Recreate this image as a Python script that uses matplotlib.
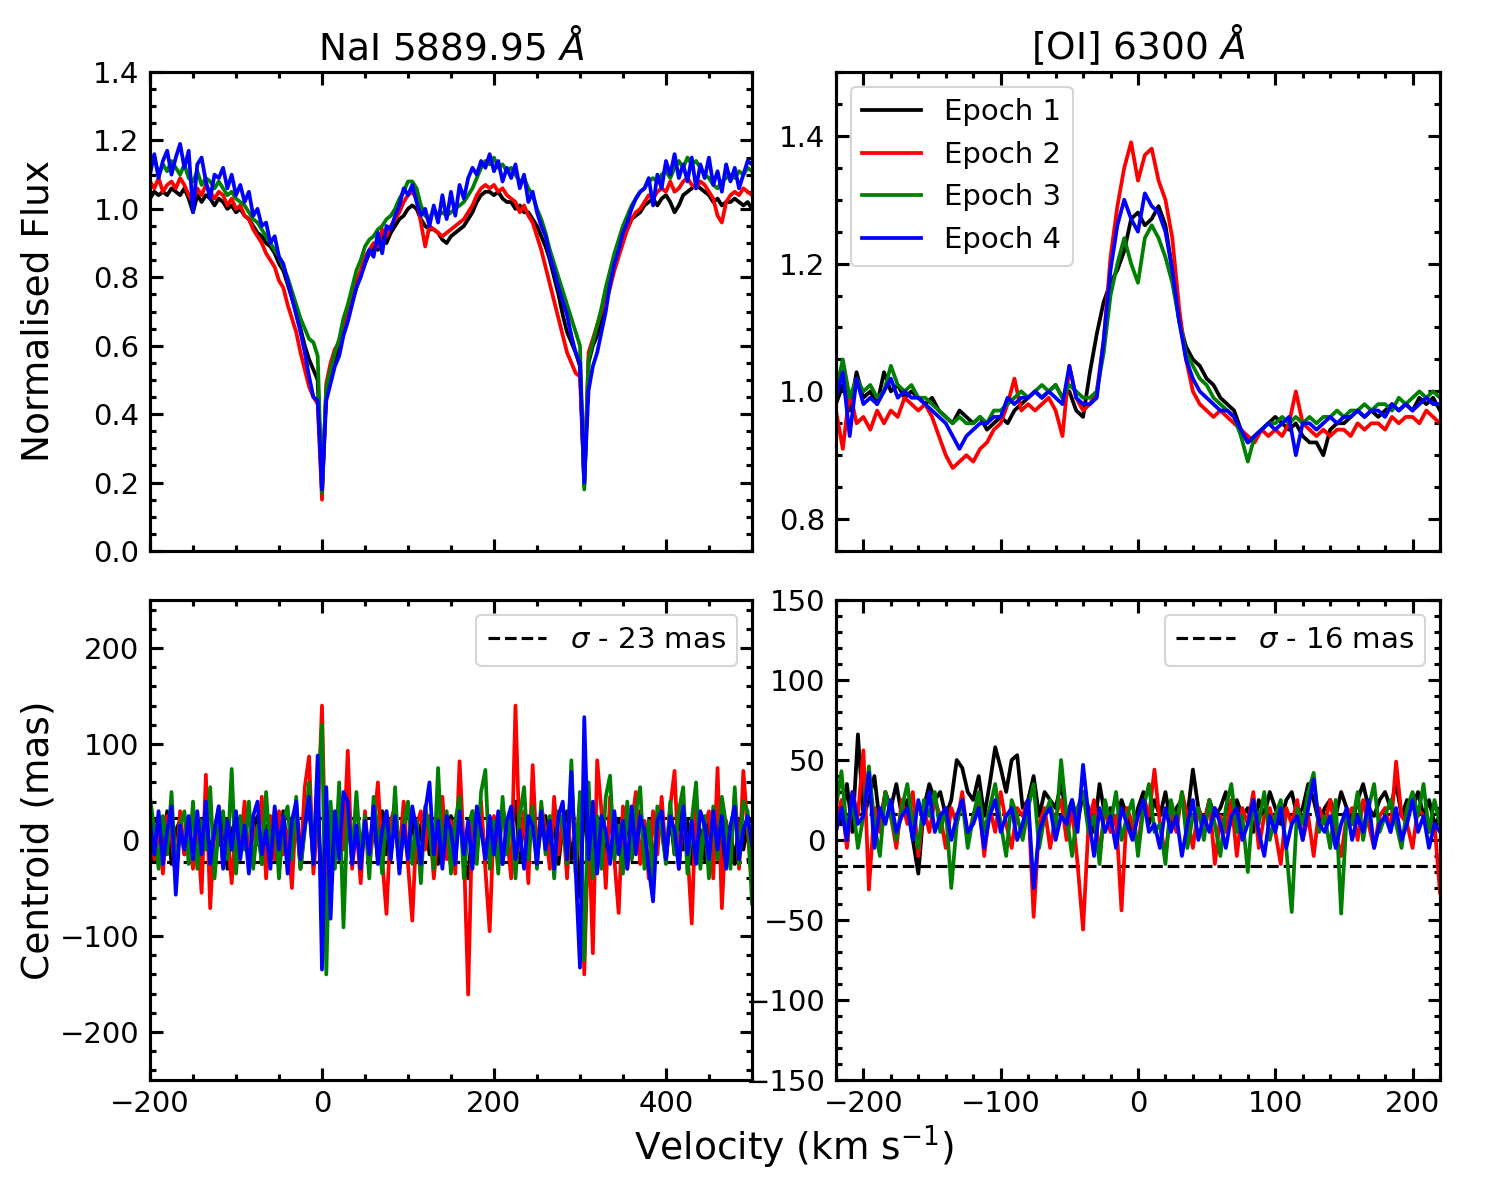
import numpy as np
import matplotlib
matplotlib.use("Agg")
import matplotlib.pyplot as plt
from matplotlib.ticker import MultipleLocator

plt.rcParams['font.family'] = ['DejaVu Sans']
plt.rcParams['mathtext.fontset'] = 'dejavusans'

# ---------------- data ----------------
epochs = ["Epoch 1", "Epoch 2", "Epoch 3", "Epoch 4"]
colors = ["k", "r", "g", "b"]

# NaI panel: velocity grid -200..500 step 5
vel_na = np.arange(-200, 501, 5)
na_e1 = [1.03, 1.05, 1.04, 1.05, 1.04, 1.06, 1.05, 1.04, 1.06, 1.03,
         0.99, 1.04, 1.02, 1.04, 1.03, 1.01, 1.03, 1.02, 1.00, 1.01,
         0.99, 1.00, 0.98, 0.97, 0.95, 0.93, 0.92, 0.90, 0.89, 0.87,
         0.84, 0.82, 0.78, 0.74, 0.70, 0.65, 0.60, 0.56, 0.53, 0.50,
         0.17, 0.47, 0.51, 0.56, 0.60, 0.64, 0.69, 0.73, 0.77, 0.81,
         0.84, 0.87, 0.89, 0.88, 0.92, 0.90, 0.93, 0.95, 0.97, 0.98,
         1.00, 1.01, 1.00, 0.97, 0.95, 0.94, 0.94, 0.93, 0.91, 0.90,
         0.92, 0.93, 0.94, 0.95, 0.97, 0.99, 1.02, 1.04, 1.05, 1.05,
         1.04, 1.05, 1.03, 1.02, 1.02, 1.00, 1.01, 0.99, 0.99, 0.97,
         0.95, 0.92, 0.89, 0.85, 0.80, 0.75, 0.69, 0.64, 0.61, 0.58,
         0.54, 0.19, 0.55, 0.60, 0.63, 0.68, 0.73, 0.78, 0.83, 0.87,
         0.91, 0.94, 0.97, 0.98, 0.99, 1.01, 1.02, 1.03, 1.01, 1.03,
         1.04, 1.02, 0.99, 1.01, 1.04, 1.05, 1.06, 1.07, 1.06, 1.05,
         1.04, 1.02, 1.03, 1.01, 1.02, 1.02, 1.03, 1.02, 1.01, 1.02,
         1.00]
na_e2 = [1.08, 1.06, 1.09, 1.05, 1.07, 1.08, 1.06, 1.09, 1.07, 1.04,
         1.02, 1.06, 1.04, 1.07, 1.05, 1.03, 1.05, 1.04, 1.01, 1.03,
         1.00, 1.01, 0.98, 0.97, 0.94, 0.92, 0.90, 0.87, 0.85, 0.83,
         0.79, 0.77, 0.72, 0.68, 0.64, 0.58, 0.53, 0.48, 0.45, 0.43,
         0.15, 0.49, 0.55, 0.59, 0.61, 0.66, 0.70, 0.75, 0.79, 0.82,
         0.86, 0.88, 0.90, 0.89, 0.94, 0.92, 0.95, 0.97, 0.99, 1.02,
         1.04, 1.05, 1.03, 0.96, 0.89, 0.95, 0.94, 0.93, 0.92, 0.93,
         0.94, 0.95, 0.96, 0.97, 0.99, 1.01, 1.04, 1.06, 1.07, 1.06,
         1.07, 1.05, 1.06, 1.04, 1.03, 1.02, 0.99, 1.01, 0.98, 0.96,
         0.92, 0.88, 0.83, 0.78, 0.73, 0.68, 0.63, 0.58, 0.55, 0.52,
         0.51, 0.20, 0.58, 0.62, 0.66, 0.70, 0.73, 0.77, 0.82, 0.86,
         0.90, 0.94, 0.97, 0.99, 1.00, 1.02, 1.04, 1.03, 1.05, 1.06,
         1.05, 1.08, 1.05, 1.06, 1.08, 1.09, 1.07, 1.06, 1.08, 1.07,
         1.05, 1.03, 0.98, 0.96, 1.02, 1.04, 1.05, 1.04, 1.06, 1.05,
         1.04]
na_e3 = [1.12, 1.15, 1.10, 1.13, 1.11, 1.14, 1.12, 1.10, 1.13, 1.09,
         1.08, 1.11, 1.07, 1.09, 1.08, 1.06, 1.08, 1.06, 1.04, 1.05,
         1.03, 1.02, 1.01, 0.99, 0.97, 0.96, 0.94, 0.92, 0.90, 0.88,
         0.86, 0.83, 0.80, 0.76, 0.72, 0.68, 0.65, 0.62, 0.61, 0.57,
         0.17, 0.48, 0.53, 0.58, 0.62, 0.68, 0.72, 0.77, 0.82, 0.85,
         0.89, 0.91, 0.92, 0.94, 0.95, 0.97, 0.98, 1.00, 1.03, 1.05,
         1.08, 1.08, 1.06, 1.01, 0.98, 0.97, 1.00, 0.98, 0.99, 0.98,
         0.99, 1.00, 1.01, 1.02, 1.04, 1.06, 1.09, 1.12, 1.14, 1.13,
         1.15, 1.12, 1.13, 1.11, 1.12, 1.10, 1.08, 1.09, 1.06, 1.04,
         1.00, 0.97, 0.93, 0.88, 0.84, 0.80, 0.76, 0.72, 0.68, 0.64,
         0.60, 0.18, 0.56, 0.61, 0.66, 0.71, 0.77, 0.82, 0.87, 0.91,
         0.95, 0.98, 1.01, 1.03, 1.05, 1.06, 1.08, 1.09, 1.08, 1.10,
         1.11, 1.09, 1.12, 1.14, 1.12, 1.15, 1.13, 1.14, 1.12, 1.10,
         1.09, 1.07, 1.06, 1.08, 1.09, 1.10, 1.09, 1.11, 1.10, 1.12,
         1.11]
na_e4 = [1.10, 1.16, 1.09, 1.14, 1.17, 1.10, 1.15, 1.19, 1.12, 1.17,
         0.99, 1.13, 1.15, 1.08, 1.03, 1.10, 1.09, 1.12, 1.06, 1.10,
         1.04, 1.07, 1.02, 1.05, 0.98, 1.00, 0.95, 0.96, 0.90, 0.92,
         0.86, 0.84, 0.79, 0.74, 0.69, 0.64, 0.58, 0.51, 0.45, 0.44,
         0.18, 0.44, 0.49, 0.54, 0.57, 0.63, 0.67, 0.72, 0.77, 0.80,
         0.84, 0.88, 0.86, 0.93, 0.87, 0.95, 0.94, 0.98, 1.01, 1.06,
         1.04, 1.07, 1.02, 0.98, 1.00, 0.95, 1.01, 0.96, 1.04, 0.97,
         1.05, 0.98, 1.07, 1.03, 1.09, 1.12, 1.10, 1.14, 1.12, 1.16,
         1.11, 1.14, 1.08, 1.12, 1.09, 1.13, 1.06, 1.10, 1.02, 1.05,
         0.99, 0.95, 0.92, 0.86, 0.82, 0.77, 0.73, 0.69, 0.63, 0.58,
         0.55, 0.20, 0.47, 0.54, 0.58, 0.64, 0.70, 0.78, 0.84, 0.88,
         0.93, 0.96, 1.00, 1.03, 1.05, 1.06, 1.09, 1.01, 1.10, 1.06,
         1.14, 1.10, 1.16, 1.09, 1.13, 1.08, 1.15, 1.06, 1.13, 1.09,
         1.15, 1.07, 1.11, 1.05, 1.13, 1.08, 1.12, 1.06, 1.10, 1.14,
         1.13]

# [OI] panel: velocity grid -220..220 step 5
vel_oi = np.arange(-220, 221, 5)
oi_e1 = [0.98, 1.01, 0.97, 1.03, 0.99, 1.00, 0.98, 1.03, 1.00, 1.01,
         0.99, 1.00, 0.99, 0.98, 0.99, 0.97, 0.96, 0.95, 0.97, 0.96,
         0.95, 0.96, 0.94, 0.95, 0.96, 0.95, 0.97, 0.98, 0.99, 1.00,
         0.99, 1.00, 1.01, 0.99, 1.00, 0.97, 0.96, 1.03, 1.09, 1.14,
         1.17, 1.19, 1.22, 1.27, 1.28, 1.26, 1.27, 1.29, 1.26, 1.19,
         1.11, 1.07, 1.05, 1.04, 1.02, 1.01, 0.99, 0.98, 0.97, 0.94,
         0.92, 0.93, 0.94, 0.95, 0.96, 0.95, 0.94, 0.95, 0.93, 0.92,
         0.92, 0.90, 0.94, 0.95, 0.95, 0.96, 0.97, 0.96, 0.97, 0.96,
         0.97, 0.98, 0.97, 0.98, 0.97, 0.99, 0.98, 0.99, 0.97]
oi_e2 = [0.97, 0.91, 1.00, 0.95, 0.96, 0.94, 0.97, 0.95, 0.97, 0.96,
         0.99, 0.98, 0.97, 0.98, 0.96, 0.93, 0.90, 0.88, 0.89, 0.90,
         0.89, 0.91, 0.92, 0.94, 0.95, 0.98, 1.02, 0.97, 0.98, 0.97,
         0.98, 0.99, 0.97, 0.93, 1.04, 0.99, 0.97, 0.98, 1.00, 1.08,
         1.21, 1.29, 1.35, 1.39, 1.33, 1.37, 1.38, 1.33, 1.30, 1.24,
         1.13, 1.05, 1.00, 0.98, 0.97, 0.96, 0.97, 0.96, 0.95, 0.94,
         0.93, 0.92, 0.94, 0.93, 0.94, 0.93, 0.95, 1.00, 0.95, 0.94,
         0.93, 0.94, 0.93, 0.94, 0.94, 0.93, 0.95, 0.94, 0.95, 0.95,
         0.94, 0.96, 0.95, 0.96, 0.96, 0.95, 0.97, 0.96, 0.95]
oi_e3 = [1.00, 1.05, 0.99, 1.02, 1.00, 1.01, 0.99, 1.00, 1.04, 1.01,
         1.00, 1.01, 0.99, 0.99, 0.98, 0.97, 0.96, 0.95, 0.96, 0.95,
         0.95, 0.96, 0.95, 0.97, 0.97, 0.98, 0.99, 1.00, 0.99, 1.00,
         1.01, 1.00, 1.01, 0.99, 1.01, 1.00, 0.99, 0.99, 1.00, 1.06,
         1.15, 1.20, 1.24, 1.20, 1.17, 1.24, 1.26, 1.24, 1.21, 1.17,
         1.11, 1.06, 1.04, 1.02, 1.01, 0.99, 0.98, 0.97, 0.96, 0.93,
         0.89, 0.93, 0.94, 0.95, 0.95, 0.96, 0.95, 0.96, 0.95, 0.96,
         0.95, 0.96, 0.96, 0.97, 0.96, 0.97, 0.97, 0.98, 0.97, 0.98,
         0.98, 0.97, 0.99, 0.98, 0.99, 1.00, 0.99, 1.00, 0.99]
oi_e4 = [0.99, 1.03, 0.93, 1.02, 0.98, 0.99, 0.98, 1.00, 1.02, 0.99,
         1.00, 0.99, 0.99, 0.98, 0.97, 0.96, 0.95, 0.93, 0.91, 0.93,
         0.94, 0.95, 0.95, 0.96, 0.96, 0.99, 0.98, 0.99, 0.99, 1.00,
         0.99, 1.00, 0.99, 0.98, 1.04, 0.99, 0.98, 0.98, 0.99, 1.08,
         1.19, 1.26, 1.30, 1.27, 1.25, 1.31, 1.29, 1.28, 1.25, 1.19,
         1.11, 1.05, 1.02, 1.00, 0.99, 0.98, 0.97, 0.97, 0.96, 0.94,
         0.92, 0.93, 0.94, 0.95, 0.94, 0.95, 0.96, 0.90, 0.95, 0.95,
         0.94, 0.95, 0.96, 0.95, 0.96, 0.96, 0.97, 0.96, 0.97, 0.97,
         0.96, 0.98, 0.97, 0.98, 0.97, 0.98, 0.99, 0.98, 0.98]

# NaI centroid (mas): same grid as vel_na
cen_na_e1 = [15, -20, 25, -10, 30, -25, 10, 20, -15, 5,
             -25, 20, -10, 30, -20, 15, -5, 25, -30, 10,
             20, -15, 30, -20, 10, 25, -25, 15, -10, 20,
             -20, 30, -15, 10, 25, -30, 15, 35, -20, 40,
             -60, 30, -35, 20, -15, 25, 30, -20, 10, -25,
             15, -10, 25, -20, 30, -15, 10, 20, -25, 15,
             -10, 25, -20, 15, 30, -15, 10, -25, 20, -10,
             25, -15, 30, -20, -40, 15, -10, 25, -20, 10,
             -15, 20, -25, 15, 10, 40, -20, 25, -15, 30,
             -20, 15, 25, -10, 20, -25, 15, 30, -20, 10,
             -60, 50, -30, 25, -20, 15, -25, 30, -10, 20,
             -15, 25, -20, 10, 30, -15, 20, -25, 15, 10,
             -20, 25, -15, 30, -10, 20, -25, 15, 10, -20,
             25, -15, 30, -20, 15, 10, -25, 20, -10, 15,
             -5]
cen_na_e2 = [35, -20, 10, -35, 25, 5, -40, 30, -15, 20,
             -30, 15, -55, 68, -71, 10, 35, -25, 5, -45,
             20, -10, 40, -30, 15, -5, 45, -40, 25, -20,
             30, -15, 10, -50, 35, -25, 55, 87, -35, 20,
             140, -60, 25, -20, 45, -10, 93, -30, 15, -45,
             30, -25, 10, 60, -20, -77, 20, 35, -15, 40,
             -25, -84, 15, 30, -10, 25, -40, 10, 45, -20,
             20, -35, 82, -10, -161, 30, -15, 40, -30, -95,
             25, -20, 35, 5, -40, 140, -10, 30, -45, 78,
             -20, 35, 10, -30, 45, -15, 25, -40, 55, -10,
             40, -140, 20, -118, 83, 30, -50, 45, -20, -76,
             35, -30, 15, 50, -25, 20, -40, 30, -15, 45,
             -20, 35, 72, -30, 25, -10, -87, 40, -25, 15,
             30, -40, 75, -71, 20, -15, 45, -30, 72, 10,
             -49]
cen_na_e3 = [45, 10, -30, 25, -15, 50, -35, 15, 30, -25,
             40, -30, 20, -10, 55, -40, 15, 30, -20, 74,
             -35, 25, -10, 40, -30, 15, -25, 50, -15, 30,
             -40, 20, 35, -20, 45, -30, 10, 60, -25, 40,
             120, -140, 40, -30, 60, -91, 35, -20, 50, -15,
             25, -40, 45, 10, -35, 30, -20, 55, -30, 15,
             40, -25, 20, -45, 35, 10, -30, 75, -20, 30,
             -35, 20, 45, -40, 15, 30, -25, 50, 73, -30,
             20, -35, 45, -15, 30, -40, 25, 55, -20, 35,
             -30, 40, -15, 25, -40, 30, 15, -25, 83, -35,
             50, -125, 60, -40, 25, -30, 45, 67, -20, 15,
             -35, 40, -20, 30, 55, -30, 20, -45, 35, 10,
             -25, 40, -15, 30, 55, -35, 20, 60, -30, 25,
             -40, 35, -20, 45, 15, -30, 55, -25, 40, 30,
             -66]
cen_na_e4 = [20, -15, 30, -25, 10, 35, -57, 15, -10, 25,
             -20, 30, -15, 40, -25, 10, 35, -30, 20, -10,
             30, -20, 15, -35, 25, 40, -15, 10, -30, 35,
             -10, 25, -35, 20, 40, -20, 15, 45, -25, 88,
             -135, 55, -82, 30, -20, 50, 40, -25, 15, -30,
             20, -15, 35, -25, 10, 30, -20, 25, -35, 15,
             -20, 35, 10, -25, 30, 60, -15, 20, -30, 25,
             10, -25, 30, -15, 20, -30, 35, 10, -20, 25,
             -15, 30, -25, 20, 35, -20, 10, -30, 25, 15,
             -25, 30, -10, 20, -30, 25, 40, -20, 71, -30,
             -133, 128, -20, 40, -35, 25, 10, -25, 30, -15,
             20, -30, 35, -15, 25, 10, -30, -64, 20, 30,
             -20, 25, 10, -30, 35, -15, 20, -25, 30, 15,
             -20, 30, -10, 25, -30, 15, 35, -20, 10, 25,
             -5]

# [OI] centroid (mas): velocity grid -220..220 step 4
vel_cen_oi = np.arange(-220, 221, 4)
cen_oi_e1 = [20, 10, 35, 5, 66, 15, 25, 40, 10, 30,
             20, 35, 15, 25, 0, -21, 20, 35, 25, 30,
             15, 25, 50, 45, 30, 25, 40, 15, 35, 58,
             45, 30, 50, 53, 20, 25, 40, 15, 30, 25,
             20, 35, 15, 25, 10, 30, 20, 5, 35, 15,
             20, 10, 25, 15, 5, 20, 30, 10, 25, 15,
             30, 10, 20, 25, 15, 44, 20, 10, 25, 15,
             20, 30, 10, 25, 15, 20, 5, 25, 15, 30,
             20, 10, 25, 30, 15, 20, 35, 25, 10, 20,
             25, 15, 30, 20, 10, 25, 35, 20, 15, 25,
             30, 20, 36, 15, 25, 20, 30, 15, 25, 10,
             15]
cen_oi_e2 = [10, 25, -5, 30, 15, 56, -31, 20, 5, 30,
             15, -5, 25, 10, 30, -10, 20, 5, 25, 15,
             -5, 20, 10, 30, 0, 15, 25, -10, 20, 5,
             30, 10, -5, 20, 15, 25, -48, 10, 20, -5,
             15, 25, 0, 20, -15, -56, 10, 25, -10, 20,
             5, 15, -44, 20, 10, -5, 25, 15, 44, 10,
             -10, 20, 5, 30, 15, -5, 20, 10, 25, -15,
             15, 5, 25, -10, 20, 10, 30, -5, 15, 20,
             5, -15, 20, 10, 25, 0, 15, -10, 20, 10,
             25, 5, -10, 15, 20, 0, 25, 10, -5, 15,
             20, 5, 49, 15, 10, -5, 20, 15, 5, 10,
             -33]
cen_oi_e3 = [20, 43, 5, 25, -5, 15, 46, 10, -10, 30,
             15, 0, 20, 35, 10, -5, 25, 15, 30, 5,
             20, -30, 10, 25, -5, 15, 30, 5, 20, 35,
             10, -10, 25, 15, 0, 20, 35, -5, 15, 25,
             5, 50, 15, -10, 20, 30, 5, 15, -15, 25,
             10, 30, 0, 15, 25, -10, 20, 35, 5, 10,
             -15, 25, 10, 30, -5, 15, 20, 0, 25, 10,
             -10, 20, 35, 5, 15, -20, 25, 10, 30, 0,
             15, 25, -5, -45, 20, 10, 30, 42, 5, 15,
             -5, 25, -46, 15, 10, 30, 0, 20, 35, 5,
             15, 25, 10, -5, 20, 30, 15, 35, 5, 25,
             10]
cen_oi_e4 = [5, 20, 0, 30, 10, 15, 42, -5, 20, 10,
             25, 5, 15, 20, 0, 25, 10, 30, 5, 15,
             20, 0, 15, 25, 5, 10, 20, -5, 15, 25,
             5, 15, 20, 0, 10, 25, -30, 5, 15, 20,
             0, 15, 10, 25, 5, 47, 15, -10, 20, 5,
             15, -5, 20, 10, 0, 15, 25, 5, 10, -5,
             20, 5, 15, -10, 10, 25, 0, 15, 5, 20,
             10, -5, 15, 20, 0, 10, 25, 5, -10, 15,
             5, 20, -5, 10, 15, 0, 20, 38, 10, 5,
             15, -5, 10, 20, 0, 15, 5, 25, -5, 10,
             15, 5, 20, 0, 10, 25, 5, 15, -5, 10,
             5]

sigma_na = 23
sigma_oi = 16

# ---------------- figure ----------------
fig = plt.figure(figsize=(10, 8), dpi=150)
ax_tl = fig.add_axes([0.1, 0.5408, 0.4013, 0.3992])
ax_tr = fig.add_axes([0.5573, 0.5408, 0.4027, 0.3992])
ax_bl = fig.add_axes([0.1, 0.1, 0.4013, 0.4])
ax_br = fig.add_axes([0.5573, 0.1, 0.4027, 0.4])

LW = 1.8
for ser, c, lab in zip([na_e1, na_e2, na_e3, na_e4], colors, epochs):
    ax_tl.plot(vel_na, ser, color=c, lw=LW, label=lab)
for ser, c, lab in zip([oi_e1, oi_e2, oi_e3, oi_e4], colors, epochs):
    ax_tr.plot(vel_oi, ser, color=c, lw=LW, label=lab)

ax_bl.axhline(sigma_na, color='k', ls='--', lw=1.5, label=r'$\sigma$ - %d mas' % sigma_na)
ax_bl.axhline(-sigma_na, color='k', ls='--', lw=1.5)
for ser, c in zip([cen_na_e1, cen_na_e2, cen_na_e3, cen_na_e4], colors):
    ax_bl.plot(vel_na, ser, color=c, lw=LW)

ax_br.axhline(sigma_oi, color='k', ls='--', lw=1.5, label=r'$\sigma$ - %d mas' % sigma_oi)
ax_br.axhline(-sigma_oi, color='k', ls='--', lw=1.5)
for ser, c in zip([cen_oi_e1, cen_oi_e2, cen_oi_e3, cen_oi_e4], colors):
    ax_br.plot(vel_cen_oi, ser, color=c, lw=LW)

# limits and ticks
ax_tl.set_xlim(-200, 500); ax_tl.set_ylim(0.0, 1.4)
ax_bl.set_xlim(-200, 500); ax_bl.set_ylim(-250, 250)
ax_tr.set_xlim(-220, 220); ax_tr.set_ylim(0.75, 1.5)
ax_br.set_xlim(-220, 220); ax_br.set_ylim(-150, 150)

for ax in (ax_tl, ax_bl):
    ax.xaxis.set_major_locator(MultipleLocator(200))
    ax.xaxis.set_minor_locator(MultipleLocator(50))
for ax in (ax_tr, ax_br):
    ax.xaxis.set_major_locator(MultipleLocator(100))
    ax.xaxis.set_minor_locator(MultipleLocator(20))
ax_tl.yaxis.set_major_locator(MultipleLocator(0.2))
ax_tl.yaxis.set_minor_locator(MultipleLocator(0.05))
ax_tr.yaxis.set_major_locator(MultipleLocator(0.2))
ax_tr.yaxis.set_minor_locator(MultipleLocator(0.05))
ax_bl.yaxis.set_major_locator(MultipleLocator(100))
ax_bl.yaxis.set_minor_locator(MultipleLocator(20))
ax_br.yaxis.set_major_locator(MultipleLocator(50))
ax_br.yaxis.set_minor_locator(MultipleLocator(10))

for ax in (ax_tl, ax_tr, ax_bl, ax_br):
    ax.tick_params(which='both', direction='in', top=True, right=True,
                   labelsize=14, width=1.5, pad=5)
    ax.tick_params(which='major', length=6)
    ax.tick_params(which='minor', length=3)
    for s in ax.spines.values():
        s.set_linewidth(1.5)
ax_tl.tick_params(labelbottom=False)
ax_tr.tick_params(labelbottom=False)

ax_tl.set_title(r'NaI 5889.95 $\AA$', fontsize=18)
ax_tr.set_title(r'[OI] 6300 $\AA$', fontsize=18)

ax_tr.legend(loc='upper left', fontsize=14)
ax_bl.legend(loc='upper right', fontsize=14)
ax_br.legend(loc='upper right', fontsize=14)

fig.text(0.026, 0.741, 'Normalised Flux', rotation=90, fontsize=18,
         ha='center', va='center')
fig.text(0.026, 0.3, 'Centroid (mas)', rotation=90, fontsize=18,
         ha='center', va='center')
fig.text(0.529, 0.044, r'Velocity (km s$^{-1}$)', fontsize=18,
         ha='center', va='center')

fig.savefig('out.png', dpi=150)
